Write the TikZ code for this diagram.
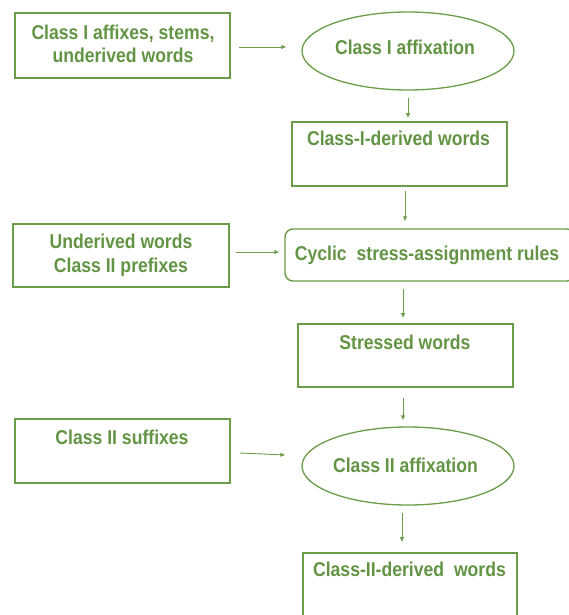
\documentclass[tikz,border=0pt]{standalone}
\usepackage{fontspec}
\setmainfont{Liberation Sans}[FakeStretch=0.88]
\usetikzlibrary{shapes.geometric,arrows.meta}
\definecolor{leaf}{RGB}{106,156,74}
\definecolor{leaftext}{RGB}{98,148,68}
\tikzset{
  box/.style={draw=leaf, line width=1.7pt, rectangle, inner sep=0pt},
  rbox/.style={box, rounded corners=8pt, line width=1.4pt},
  oval/.style={draw=leaf, line width=1.3pt, ellipse, inner sep=0pt,
               minimum width=212pt, minimum height=78pt},
  txt/.style={text=leaftext, font=\fontsize{20}{23.5}\selectfont\bfseries,
              inner sep=0pt, anchor=base, align=center},
  arr/.style={draw=leaf, line width=0.9pt,
              -{Latex[length=5pt,width=4.5pt]}},
}
\begin{document}
\begin{tikzpicture}[x=1pt,y=-1pt]
  \useasboundingbox (0,0) rectangle (569,615);

  % shapes
  \node[box, minimum width=215pt, minimum height=65pt] (b1) at (122.5,45.5) {};
  \node[oval] (e1) at (408,51) {};
  \node[box, minimum width=215pt, minimum height=64pt] (b2) at (399.5,154) {};
  \node[box, minimum width=216pt, minimum height=63pt] (b3) at (121,255.5) {};
  \node[rbox, minimum width=290pt, minimum height=52pt] (rb) at (430,255) {};
  \node[box, minimum width=215pt, minimum height=63pt] (b4) at (405.5,355.5) {};
  \node[box, minimum width=215pt, minimum height=64pt] (b5) at (122.5,451) {};
  \node[oval] (e2) at (408,466) {};
  \node[box, minimum width=214pt, minimum height=64pt] (b6) at (410,585) {};

  % labels (two-line labels sit on the baseline of their last line)
  \node[txt] (t1) at (123,62.8) {Class I affixes, stems,\\underived words};
  \node[txt] (t2) at (405,54.3) {Class I affixation};
  \node[txt] (t3) at (398.5,145) {Class-I-derived words};
  \node[txt] (t4) at (121,272) {Underived words\\Class II prefixes};
  \node[txt] (t5) at (427,260) {Cyclic\hspace{5pt} stress-assignment rules};
  \node[txt] (t6) at (405,349) {Stressed words};
  \node[txt] (t7) at (122,444) {Class II suffixes};
  \node[txt] (t8) at (405.5,472.7) {Class II affixation};
  \node[txt] (t9) at (409.5,576.7) {Class-II-derived\hspace{5pt} words};

  % connectors
  \draw[arr] ([xshift=8pt]b1.east |- 0,47) -- ([xshift=-15pt]e1.west |- 0,47);
  \draw[arr] ([yshift=-7pt]e1.south) -- ([yshift=3pt]b2.north -| e1.south);
  \draw[arr] ([yshift=-4pt]b2.south -| 405,0) -- ([yshift=7pt]rb.north -| 405,0);
  \draw[arr] ([xshift=6pt]b3.east |- 0,252) -- ([xshift=-5pt]rb.west |- 0,252);
  \draw[arr] ([yshift=-7pt]rb.south -| 403,0) -- ([yshift=5pt]b4.north -| 403,0);
  \draw[arr] ([yshift=-10pt]b4.south -| 403,0) -- ([yshift=6pt]e2.north -| 403,0);
  \draw[arr] ([xshift=9pt]b5.east |- 0,453) -- ([xshift=-16pt]e2.west |- 0,455);
  \draw[arr] ([yshift=-7pt]e2.south -| 402,0) -- ([yshift=10pt]b6.north -| 402,0);
\end{tikzpicture}
\end{document}
